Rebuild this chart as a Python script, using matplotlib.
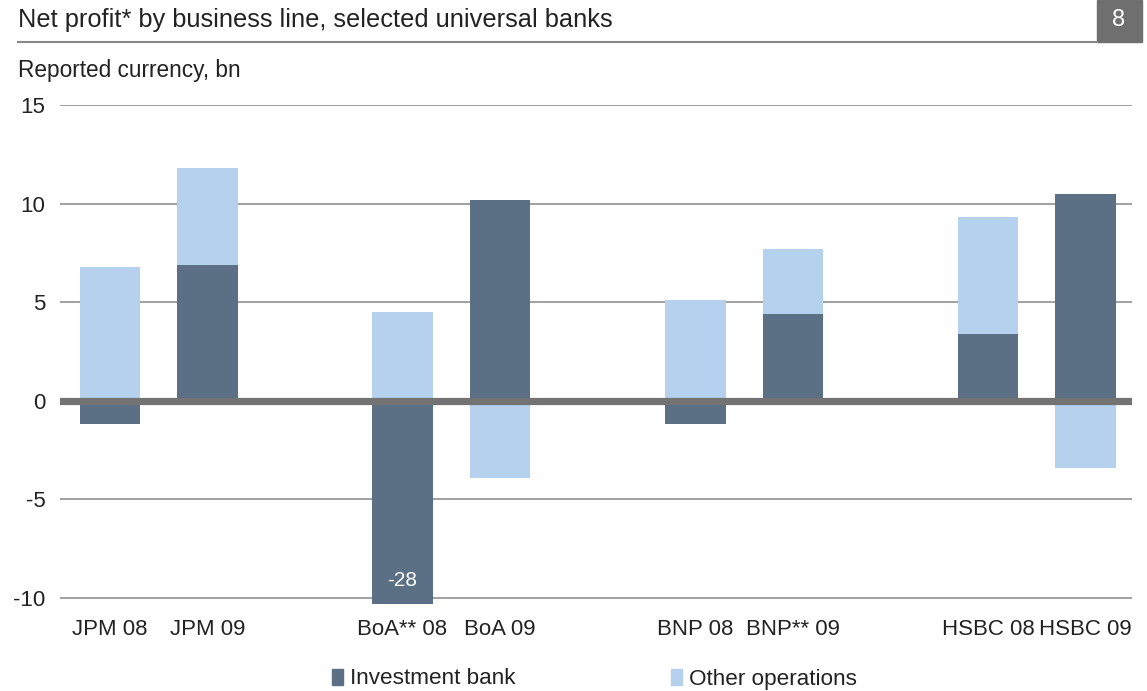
import numpy as np
import matplotlib
matplotlib.use("Agg")
import matplotlib.pyplot as plt
from matplotlib.patches import Rectangle
from matplotlib.lines import Line2D

plt.rcParams["font.family"] = ["Liberation Sans", "DejaVu Sans"]

# data (reported currency, bn)
labels = ["JPM 08", "JPM 09", "BoA** 08", "BoA 09",
          "BNP 08", "BNP** 09", "HSBC 08", "HSBC 09"]
positions = [0, 1, 3, 4, 6, 7, 9, 10]
investment_bank = [-1.2, 6.9, -28.0, 10.2, -1.2, 4.4, 3.4, 10.5]
other_operations = [6.8, 4.9, 4.5, -3.9, 5.1, 3.3, 5.9, -3.4]
yticks = [-10, -5, 0, 5, 10, 15]

IB_COLOR = "#5b6f85"
OTHER_COLOR = "#b5d1ee"
TEXT_COLOR = "#222222"

fig = plt.figure(figsize=(11.47, 6.91), dpi=100)
ax = fig.add_axes([0.0523, 0.126, 0.935, 0.722])

ib = np.array(investment_bank)
oth = np.array(other_operations)
# stack each series on the side of zero it belongs to
ib_base = np.zeros(len(ib))
oth_base = np.where(np.sign(oth) == np.sign(ib), ib, 0.0)

w = 0.62
ax.bar(positions, ib, width=w, bottom=ib_base, color=IB_COLOR, zorder=2)
ax.bar(positions, oth, width=w, bottom=oth_base, color=OTHER_COLOR, zorder=2)

ax.set_ylim(-10.3, 15)
ax.set_xlim(-0.51, 10.48)
ax.set_yticks(yticks)
ax.set_yticklabels([str(t) for t in yticks])
ax.set_xticks(positions)
ax.set_xticklabels(labels)
ax.tick_params(axis="both", length=0, labelsize=16, colors=TEXT_COLOR)
ax.tick_params(axis="x", pad=11)
ax.tick_params(axis="y", pad=10.5)
for s in ax.spines.values():
    s.set_visible(False)

for t in yticks:
    if t != 0:
        ax.axhline(t, color="#999999", lw=1.3, zorder=1)
ax.axhline(0, color="#737373", lw=5.2, zorder=3)

# label for the clipped BoA bar
ax.text(positions[2], -9.1, "-28", ha="center", va="center",
        fontsize=15, color="white", zorder=4)

# header
fig.text(18 / 1147, 1 - 20 / 691, "Net profit* by business line, selected universal banks",
         fontsize=18.3, color=TEXT_COLOR, va="center", ha="left")
fig.add_artist(Line2D([18 / 1147, 1097 / 1147], [1 - 42 / 691] * 2,
                      color="#888888", lw=1.5, transform=fig.transFigure))
fig.add_artist(Rectangle((1097 / 1147, 1 - 42 / 691), 45 / 1147, 42 / 691,
                         color="#6f6f6f", transform=fig.transFigure))
fig.text(1119 / 1147, 1 - 20 / 691, "8", fontsize=17, color="white",
         ha="center", va="center")
fig.text(18 / 1147, 1 - 71 / 691, "Reported currency, bn",
         fontsize=16.3, color=TEXT_COLOR, va="center", ha="left")

# legend
handles = [Rectangle((0, 0), 1, 1, color=IB_COLOR),
           Rectangle((0, 0), 1, 1, color=OTHER_COLOR)]
fig.legend(handles, ["Investment bank", "Other operations"], loc="center",
           bbox_to_anchor=(0.518, 1 - 679 / 691), ncol=2, frameon=False,
           fontsize=16.2, handlelength=0.5, handleheight=0.7, handletextpad=0.3,
           columnspacing=6.9, labelcolor=TEXT_COLOR)

fig.savefig("out.png", dpi=100)
